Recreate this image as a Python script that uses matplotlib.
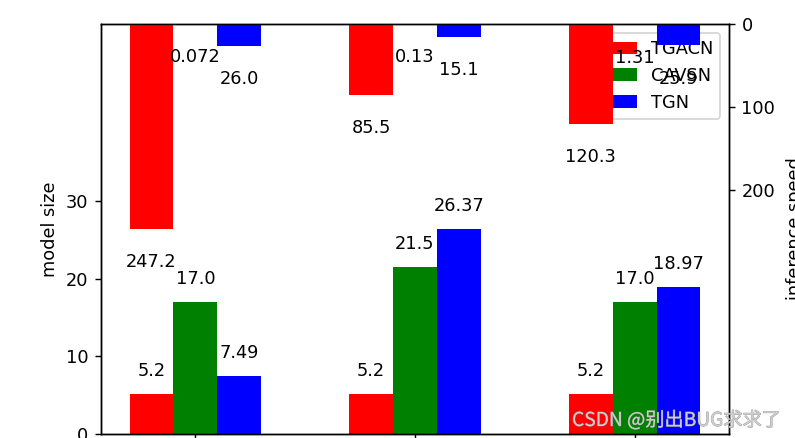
import numpy as np
import matplotlib
matplotlib.use('Agg')
import matplotlib.pyplot as plt
import matplotlib.patheffects as pe

# datos
modelos = ['TGACN', 'CAVSN', 'TGN']
grupos = ['A', 'B', 'C']
model_size = {
    'TGACN': [5.2, 5.2, 5.2],
    'CAVSN': [17.0, 21.5, 17.0],
    'TGN': [7.49, 26.37, 18.97],
}
inference_speed = {
    'TGACN': [247.2, 85.5, 120.3],
    'CAVSN': [0.072, 0.13, 1.31],
    'TGN': [26.0, 15.1, 25.9],
}
colores = ['red', 'green', 'blue']

x = np.arange(len(grupos))
width = 0.2

fig = plt.figure(figsize=(795 / 128, 438 / 128), dpi=128)
ax1 = fig.add_axes([101 / 795, 1 - 434 / 438, 628 / 795, 410 / 438])
ax2 = ax1.twinx()

# tamaño del modelo (eje izquierdo)
for i, m in enumerate(modelos):
    vals = model_size[m]
    ax1.bar(x + (i - 1) * width, vals, width, color=colores[i], label=m)
    for xi, v in zip(x, vals):
        ax1.text(xi + (i - 1) * width, v + 2.9, str(v), ha='center', va='center')

# velocidad de inferencia (eje derecho, invertido)
for i, m in enumerate(modelos):
    vals = inference_speed[m]
    ax2.bar(x + (i - 1) * width, vals, width, color=colores[i])
    for xi, v in zip(x, vals):
        ax2.text(xi + (i - 1) * width, v + 40, str(v), ha='center', va='center')

max_size = max(max(v) for v in model_size.values())
max_speed = max(max(v) for v in inference_speed.values())
ax1.set_ylim(0, max_size * 2)
ax1.set_yticks([0, 10, 20, 30])
ax2.set_ylim(max_speed * 2, 0)
ax2.set_yticks([0, 100, 200])

ax1.set_xticks(x)
ax1.set_xticklabels(grupos)
ax1.set_ylabel('model size')
ax2.set_ylabel('inference speed', labelpad=6)
ax1.legend(loc='upper right')

# marca de agua
fig.text(572 / 795, 1 - 426 / 438, 'CSDN @别出BUG求求了', fontsize=10.8,
         family=['Noto Sans CJK SC', 'DejaVu Sans'], color='#d0d0d0', alpha=0.9,
         path_effects=[pe.withStroke(linewidth=0.4, foreground='#8a8a8a')])

fig.savefig('out.png', dpi=128)
